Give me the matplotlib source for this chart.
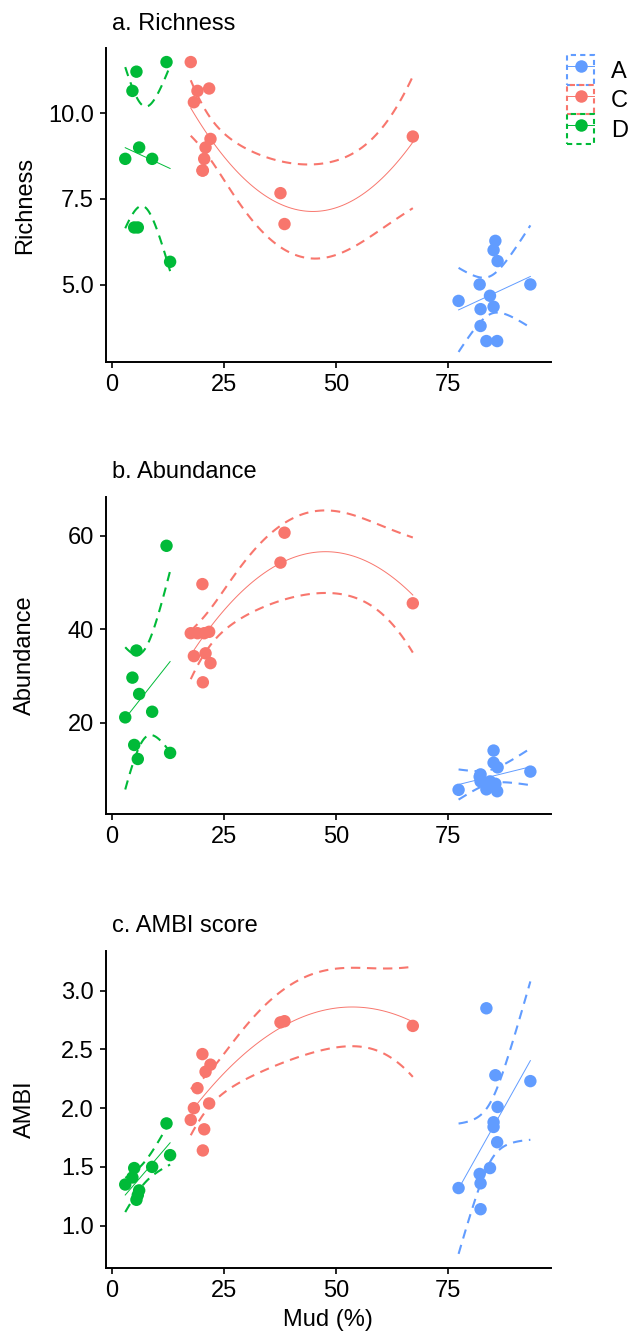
import numpy as np
import matplotlib
matplotlib.use("Agg")
import matplotlib.pyplot as plt
from matplotlib.lines import Line2D
from matplotlib.patches import Rectangle

plt.rcParams['font.family'] = ['Liberation Sans', 'DejaVu Sans']

# mud content (%) of each site, by group
mud_A = [77.3, 82.0, 82.2, 82.2, 83.5, 84.3, 85.1, 85.1, 85.5, 85.9, 86.0, 93.3]
mud_C = [17.6, 18.3, 19.1, 20.2, 20.3, 20.6, 20.9, 21.7, 22.0, 37.6, 38.5, 67.1]
mud_D = [3.0, 4.6, 5.0, 5.5, 5.8, 6.1, 9.0, 12.2, 13.0]

richness_A = [4.53, 5.01, 4.29, 3.80, 3.36, 4.68, 6.01, 4.36, 6.28, 3.36, 5.69, 5.01]
richness_C = [11.49, 10.32, 10.65, 8.33, 8.33, 8.67, 9.0, 10.72, 9.25, 7.67, 6.77, 9.32]
richness_D = [8.67, 10.65, 6.67, 11.21, 6.67, 9.0, 8.67, 11.49, 5.67]

abundance_A = [5.7, 8.5, 7.5, 9.0, 5.8, 7.5, 14.1, 11.5, 7.0, 5.4, 10.5, 9.6]
abundance_C = [39.2, 34.3, 39.2, 49.7, 28.7, 39.2, 34.9, 39.5, 32.8, 54.3, 60.7, 45.6]
abundance_D = [21.2, 29.7, 15.3, 35.5, 12.3, 26.2, 22.4, 57.9, 13.6]

ambi_A = [1.32, 1.44, 1.36, 1.14, 2.85, 1.49, 1.88, 1.84, 2.28, 1.71, 2.01, 2.23]
ambi_C = [1.90, 2.00, 2.17, 2.46, 1.64, 1.82, 2.31, 2.04, 2.37, 2.73, 2.74, 2.70]
ambi_D = [1.35, 1.41, 1.49, 1.22, 1.26, 1.30, 1.50, 1.87, 1.60]

groups = ['A', 'C', 'D']
colors = {'A': '#619CFF', 'C': '#F8766D', 'D': '#00BA38'}
mud = {'A': mud_A, 'C': mud_C, 'D': mud_D}
# smoother per group: polynomial degree and penalty on the curvature term
degree = {'A': 1, 'C': 2, 'D': 1}
penalty = {'A': 0.0, 'C': 2.0, 'D': 0.0}

panels = [
    ("a. Richness", "Richness", {'A': richness_A, 'C': richness_C, 'D': richness_D},
     (2.75, 11.9), [5.0, 7.5, 10.0], "{:.1f}"),
    ("b. Abundance", "Abundance", {'A': abundance_A, 'C': abundance_C, 'D': abundance_D},
     (0.53, 68.4), [20, 40, 60], "{:.0f}"),
    ("c. AMBI score", "AMBI", {'A': ambi_A, 'C': ambi_C, 'D': ambi_D},
     (0.637, 3.34), [1.0, 1.5, 2.0, 2.5, 3.0], "{:.1f}"),
]


def smooth(x, y, deg, lam, n=80):
    # penalised polynomial fit with a 95% (normal) confidence band
    x = np.asarray(x, float)
    y = np.asarray(y, float)
    mu, sd = x.mean(), x.std()
    X = np.vander((x - mu) / sd, deg + 1)
    P = np.zeros((deg + 1, deg + 1))
    if deg > 1:
        P[0, 0] = lam
    A = X.T @ X + P
    Ainv = np.linalg.inv(A)
    beta = Ainv @ X.T @ y
    edf = np.trace(Ainv @ X.T @ X)
    rss = np.sum((y - X @ beta) ** 2)
    V = rss / (len(x) - edf) * Ainv
    xs = np.linspace(x.min(), x.max(), n)
    Xs = np.vander((xs - mu) / sd, deg + 1)
    fit = Xs @ beta
    se = np.sqrt(np.einsum('ij,jk,ik->i', Xs, V, Xs))
    return xs, fit, fit - 1.96 * se, fit + 1.96 * se


W, H = 640, 1333
fig = plt.figure(figsize=(W / 100, H / 100), dpi=100)

left, right = 105.5, 551
boxes = [(48, 362), (496.7, 814), (950.7, 1268.3)]
title_base = [30, 478, 931.7]
fs = 17
dash = (0, (4.5, 3.2))

for i, (title, ylab, values, ylim, yticks, fmt) in enumerate(panels):
    top, bottom = boxes[i]
    ax = fig.add_axes([left / W, 1 - bottom / H, (right - left) / W, (bottom - top) / H])
    for g in groups:
        ax.scatter(mud[g], values[g], s=80, color=colors[g], edgecolors='none', zorder=3)
        xs, fit, lo, hi = smooth(mud[g], values[g], degree[g], penalty[g])
        ax.plot(xs, fit, color=colors[g], lw=0.7, zorder=4)
        ax.plot(xs, lo, color=colors[g], lw=1.5, ls=dash, zorder=4)
        ax.plot(xs, hi, color=colors[g], lw=1.5, ls=dash, zorder=4)

    ax.set_xlim(-1.4, 97.9)
    ax.set_ylim(*ylim)
    ax.set_xticks([0, 25, 50, 75])
    ax.set_yticks(yticks)
    ax.set_yticklabels([fmt.format(v) for v in yticks])
    for side in ('top', 'right'):
        ax.spines[side].set_visible(False)
    for side in ('left', 'bottom'):
        ax.spines[side].set_linewidth(1.4)
    ax.tick_params(length=4.3, width=1.2, pad=4, labelsize=fs, colors='black')

    fig.text(112 / W, 1 - title_base[i] / H, title, fontsize=fs, ha='left', va='baseline')
    fig.text(25 / W, 1 - (top + bottom) / 2 / H, ylab, fontsize=fs, rotation=90,
             ha='center', va='center')

fig.text((left + right) / 2 / W, 1 - 1320 / H, "Mud (%)", fontsize=fs, ha='center', va='center')

handles = []
for g in groups:
    box = Rectangle((0, 0), 1, 1, fill=False, edgecolor=colors[g], lw=1.5, ls=(0, (2.5, 2)))
    mark = Line2D([], [], color=colors[g], lw=0.7, marker='o', markersize=9,
                  markeredgewidth=0)
    handles.append((box, mark))
fig.legend(handles, groups, loc='upper left', bbox_to_anchor=(567 / W, 1 - 55 / H),
           frameon=False, fontsize=fs, handlelength=1.15, handleheight=1.55,
           handletextpad=0.7, labelspacing=0.0, numpoints=1, borderpad=0,
           borderaxespad=0)

fig.savefig("out.png", dpi=100)
